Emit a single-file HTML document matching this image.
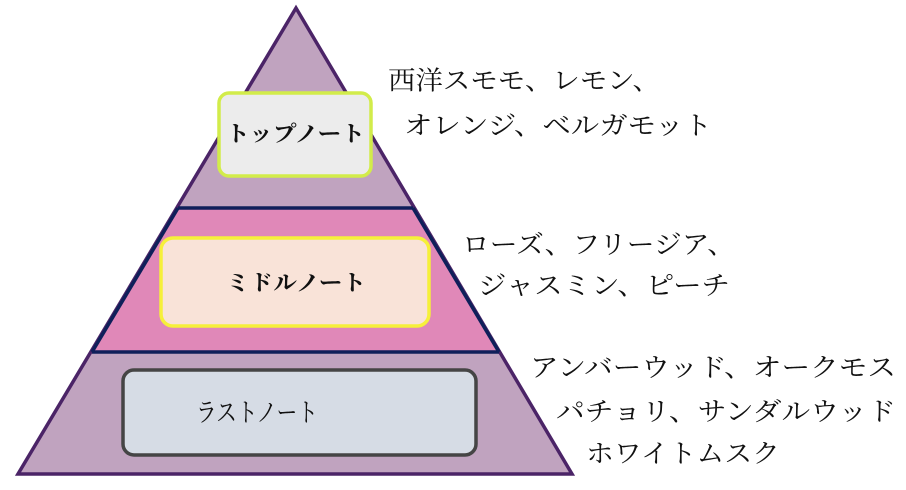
<!DOCTYPE html>
<html><head><meta charset="utf-8"><style>
html,body{margin:0;padding:0;background:#fff;width:906px;height:490px;overflow:hidden}
text{font-family:"Noto Serif CJK SC","Noto Serif CJK JP","Liberation Serif",serif;fill:#111}
</style></head><body>
<svg width="906" height="490" viewBox="0 0 906 490" xmlns="http://www.w3.org/2000/svg">
<polygon points="296,8 18,474 572,474" fill="#c0a3bf"/>
<polygon points="178,208 413,208 499,352 92,352" fill="#e088b8"/>
<polygon points="296,8 18,474 572,474" fill="none" stroke="#4b2467" stroke-width="3.5" stroke-linejoin="miter"/>
<line x1="178" y1="208" x2="413" y2="208" stroke="#0f1f5a" stroke-width="3.5"/>
<line x1="92" y1="352" x2="499" y2="352" stroke="#0f1f5a" stroke-width="3.5"/>
<line x1="178" y1="208" x2="92" y2="352" stroke="#0f1f5a" stroke-width="3.5"/>
<line x1="413" y1="208" x2="499" y2="352" stroke="#0f1f5a" stroke-width="3.5"/>
<rect x="219" y="93" width="152" height="83" rx="10" fill="#ececec" stroke="#d2ec4a" stroke-width="3.5"/>
<rect x="161" y="238" width="268" height="88" rx="12" fill="#f9e3d8" stroke="#f6f03a" stroke-width="3.5"/>
<rect x="123" y="370" width="353" height="85" rx="11" fill="#d6dce5" stroke="#454545" stroke-width="3.5"/>
<g font-weight="bold" font-size="22" dominant-baseline="central">
<text x="226" y="133" textLength="139" lengthAdjust="spacingAndGlyphs">トップノート</text>
<text x="226" y="282" textLength="140" lengthAdjust="spacingAndGlyphs">ミドルノート</text>
</g>
<g font-size="26" dominant-baseline="central">
<text x="196" y="411" textLength="122" lengthAdjust="spacingAndGlyphs">ラストノート</text>
<text x="388" y="79" textLength="272" lengthAdjust="spacingAndGlyphs">西洋スモモ、レモン、</text>
<text x="404" y="124" textLength="308" lengthAdjust="spacingAndGlyphs">オレンジ、ベルガモット</text>
<text x="462" y="243" textLength="273" lengthAdjust="spacingAndGlyphs">ローズ、フリージア、</text>
<text x="478" y="284" textLength="252" lengthAdjust="spacingAndGlyphs">ジャスミン、ピーチ</text>
<text x="530" y="366" textLength="366" lengthAdjust="spacingAndGlyphs">アンバーウッド、オークモス</text>
<text x="556" y="410" textLength="340" lengthAdjust="spacingAndGlyphs">パチョリ、サンダルウッド</text>
<text x="586" y="452" textLength="194" lengthAdjust="spacingAndGlyphs">ホワイトムスク</text>
</g>
</svg>
</body></html>
